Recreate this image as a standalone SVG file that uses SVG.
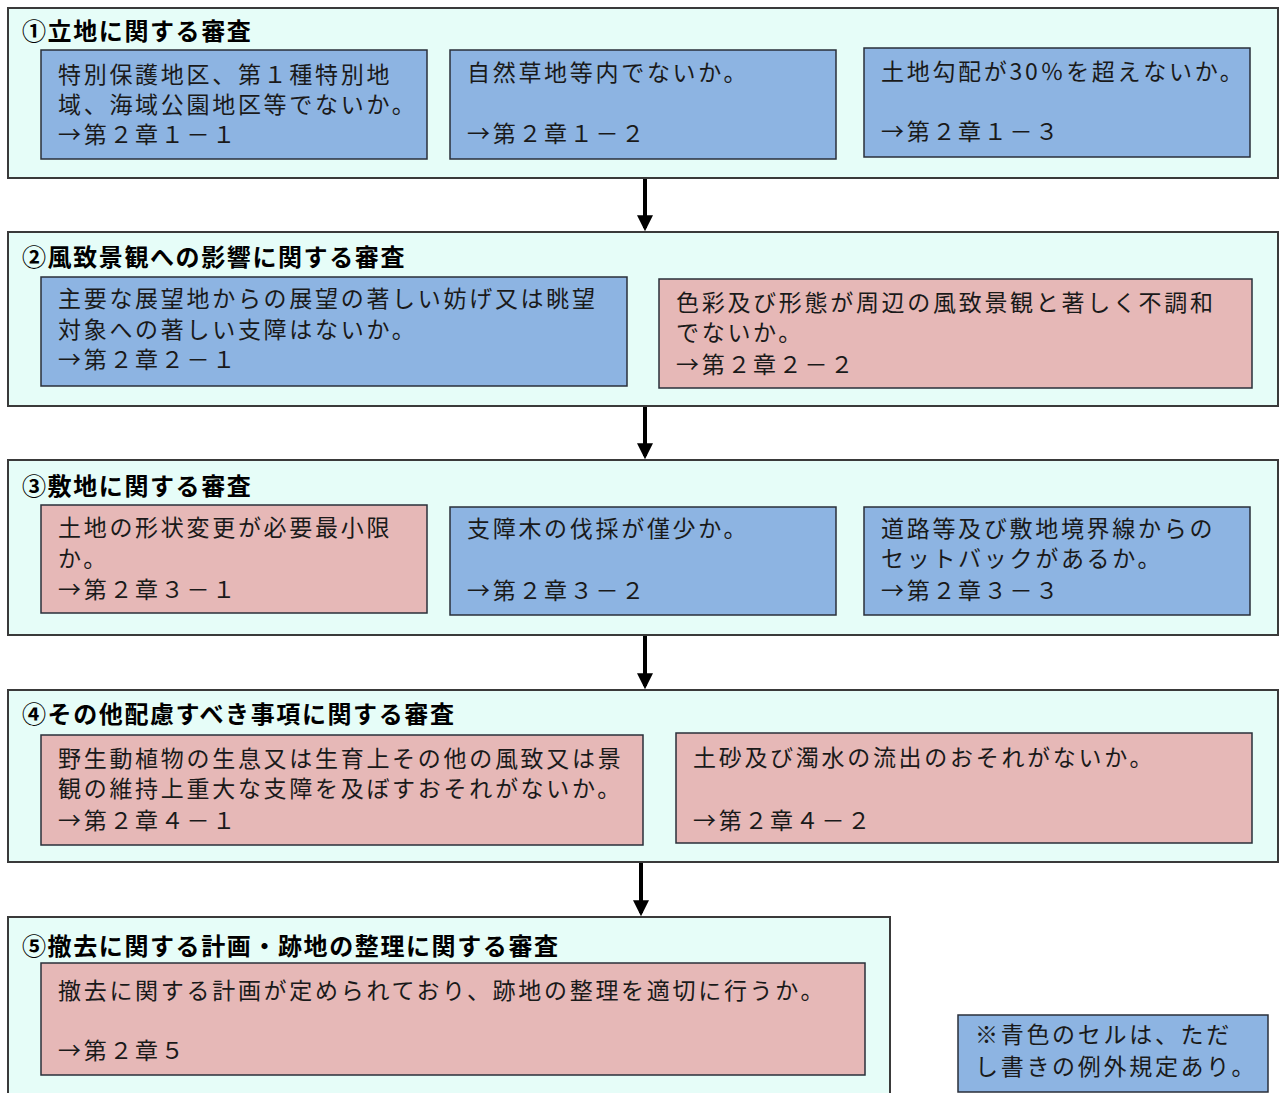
<svg xmlns="http://www.w3.org/2000/svg" width="1280" height="1093" viewBox="0 0 1280 1093">
<style>
.sec{fill:#e6fdf8;stroke:#3a3a3a;stroke-width:2}
.blue{fill:#8db4e2;stroke:#2a2f3a;stroke-width:1.5}
.pink{fill:#e6b8b7;stroke:#2a2f3a;stroke-width:1.5}
.t{font-family:"Noto Sans CJK JP","Noto Sans CJK SC",sans-serif;font-size:23px;letter-spacing:2.7px;fill:#1a1a1a}
.h{font-family:"Noto Sans CJK JP","Noto Sans CJK SC",sans-serif;font-size:24px;font-weight:bold;letter-spacing:1.6px;fill:#000}
.ar{stroke:#000;stroke-width:4}
</style>
<defs>
<marker id="ah" markerWidth="4" markerHeight="4" refX="3.2" refY="2" orient="auto" markerUnits="strokeWidth">
<path d="M0,0 L4,2 L0,4 Z" fill="#000"/>
</marker>
</defs>
<rect width="1280" height="1093" fill="#fff"/>

<g id="sec1">
<rect class="sec" x="8" y="8" width="1270" height="170"/>
<text class="h" x="22" y="40">①立地に関する審査</text>
<g id="n1-1"><rect class="blue" x="41" y="50" width="386" height="109"/>
<text class="t" x="58" y="83">特別保護地区、第１種特別地</text>
<text class="t" x="58" y="113">域、海域公園地区等でないか。</text>
<text class="t" x="58" y="143">→第２章１－１</text></g>
<g id="n1-2"><rect class="blue" x="450" y="50" width="386" height="109"/>
<text class="t" x="467" y="81">自然草地等内でないか。</text>
<text class="t" x="467" y="142">→第２章１－２</text></g>
<g id="n1-3"><rect class="blue" x="864" y="48" width="386" height="109"/>
<text class="t" x="881" y="80">土地勾配が30％を超えないか。</text>
<text class="t" x="881" y="140">→第２章１－３</text></g>
</g>

<g id="sec2">
<rect class="sec" x="8" y="232" width="1270" height="174"/>
<text class="h" x="22" y="266">②風致景観への影響に関する審査</text>
<g id="n2-1"><rect class="blue" x="41" y="277" width="586" height="109"/>
<text class="t" x="58" y="307">主要な展望地からの展望の著しい妨げ又は眺望</text>
<text class="t" x="58" y="338">対象への著しい支障はないか。</text>
<text class="t" x="58" y="368">→第２章２－１</text></g>
<g id="n2-2"><rect class="pink" x="659" y="279" width="593" height="109"/>
<text class="t" x="676" y="311">色彩及び形態が周辺の風致景観と著しく不調和</text>
<text class="t" x="676" y="341">でないか。</text>
<text class="t" x="676" y="373">→第２章２－２</text></g>
</g>

<g id="sec3">
<rect class="sec" x="8" y="460" width="1270" height="175"/>
<text class="h" x="22" y="495">③敷地に関する審査</text>
<g id="n3-1"><rect class="pink" x="41" y="505" width="386" height="108"/>
<text class="t" x="58" y="536">土地の形状変更が必要最小限</text>
<text class="t" x="58" y="567">か。</text>
<text class="t" x="58" y="598">→第２章３－１</text></g>
<g id="n3-2"><rect class="blue" x="450" y="507" width="386" height="108"/>
<text class="t" x="467" y="537">支障木の伐採が僅少か。</text>
<text class="t" x="467" y="599">→第２章３－２</text></g>
<g id="n3-3"><rect class="blue" x="864" y="507" width="386" height="108"/>
<text class="t" x="881" y="537">道路等及び敷地境界線からの</text>
<text class="t" x="881" y="567">セットバックがあるか。</text>
<text class="t" x="881" y="599">→第２章３－３</text></g>
</g>

<g id="sec4">
<rect class="sec" x="8" y="690" width="1270" height="172"/>
<text class="h" x="22" y="723">④その他配慮すべき事項に関する審査</text>
<g id="n4-1"><rect class="pink" x="41" y="735" width="602" height="110"/>
<text class="t" x="58" y="767">野生動植物の生息又は生育上その他の風致又は景</text>
<text class="t" x="58" y="797">観の維持上重大な支障を及ぼすおそれがないか。</text>
<text class="t" x="58" y="829">→第２章４－１</text></g>
<g id="n4-2"><rect class="pink" x="676" y="733" width="576" height="110"/>
<text class="t" x="693" y="766">土砂及び濁水の流出のおそれがないか。</text>
<text class="t" x="693" y="829">→第２章４－２</text></g>
</g>

<g id="sec5">
<rect class="sec" x="8" y="917" width="882" height="185"/>
<text class="h" x="22" y="955">⑤撤去に関する計画・跡地の整理に関する審査</text>
<g id="n5-1"><rect class="pink" x="41" y="963" width="824" height="112"/>
<text class="t" x="58" y="999">撤去に関する計画が定められており、跡地の整理を適切に行うか。</text>
<text class="t" x="58" y="1059">→第２章５</text></g>
</g>

<g id="note">
<rect class="blue" x="958" y="1015" width="310" height="77"/>
<text class="t" x="975" y="1043">※青色のセルは、ただ</text>
<text class="t" x="975" y="1075">し書きの例外規定あり。</text>
</g>

<g id="connectors">
<line class="ar" x1="645" y1="179" x2="645" y2="228" marker-end="url(#ah)"/>
<line class="ar" x1="645" y1="407" x2="645" y2="456" marker-end="url(#ah)"/>
<line class="ar" x1="645" y1="636" x2="645" y2="686" marker-end="url(#ah)"/>
<line class="ar" x1="641" y1="863" x2="641" y2="913" marker-end="url(#ah)"/>
</g>
</svg>
